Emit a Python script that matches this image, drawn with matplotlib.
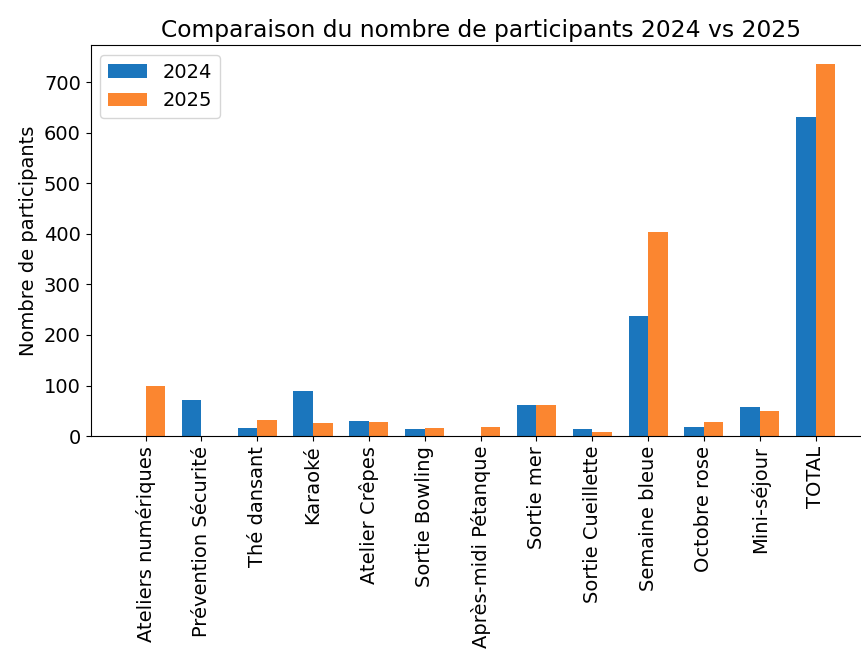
import numpy as np
import matplotlib

matplotlib.use('Agg')
import matplotlib.pyplot as plt

activites = ['Ateliers numériques', 'Prévention Sécurité', 'Thé dansant', 'Karaoké',
             'Atelier Crêpes', 'Sortie Bowling', 'Après-midi Pétanque', 'Sortie mer',
             'Sortie Cueillette', 'Semaine bleue', 'Octobre rose', 'Mini-séjour', 'TOTAL']
participants_2024 = [0, 71, 17, 90, 30, 14, 0, 62, 15, 238, 18, 58, 630]
participants_2025 = [100, 0, 31, 26, 28, 16, 19, 61, 8, 403, 27, 50, 736]

plt.rcParams['font.size'] = 14

x = np.arange(len(activites))
largeur = 0.35

fig = plt.figure(figsize=(8.62, 6.5), dpi=100)
ax = fig.add_axes([0.105, 0.329, 0.905, 0.6015])
ax.bar(x - largeur / 2, participants_2024, largeur, color='#1b76bd', label='2024')
ax.bar(x + largeur / 2, participants_2025, largeur, color='#fb8630', label='2025')

ax.set_xticks(x)
ax.set_xticklabels(activites, rotation=90)
ax.set_ylabel('Nombre de participants')
ax.set_title('Comparaison du nombre de participants 2024 vs 2025', fontsize=16.8)
ax.legend(loc='upper left')

plt.savefig('out.png', dpi=100)
plt.close()
